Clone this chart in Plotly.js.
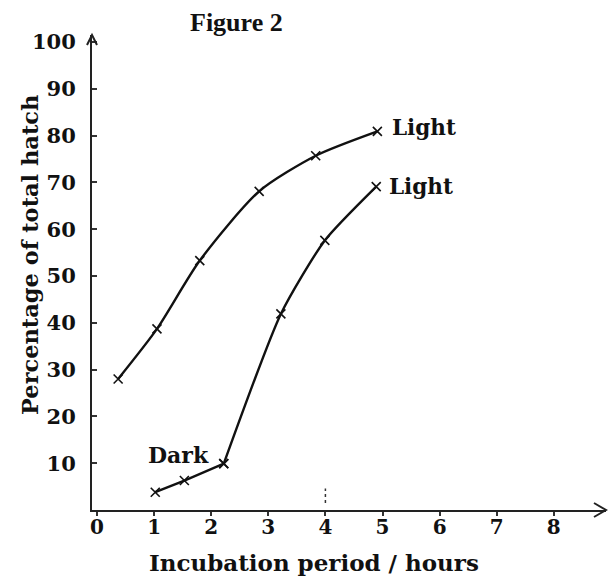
<!DOCTYPE html>
<html>
<head>
<meta charset="utf-8">
<script src="https://cdn.plot.ly/plotly-3.0.1.min.js"></script>
<style>html,body{margin:0;padding:0;background:#fff;}#chart{width:608px;height:576px;}</style>
</head>
<body>
<div id="chart"></div>
<script>
// Data
const lightUpperHours = [0.37, 1.05, 1.80, 2.84, 3.83, 4.91];
const lightUpperPct   = [28.0, 38.7, 53.3, 68.1, 75.7, 80.9];

const darkHours = [1.02, 1.53, 2.22];
const darkPct   = [3.8, 6.3, 9.9];

const lightLowerHours = [2.22, 3.22, 3.99, 4.89];
const lightLowerPct   = [9.9, 41.9, 57.6, 69.1];

const xTickVals = [0, 1, 2, 3, 4, 5, 6, 7, 8];
const yTickVals = [10, 20, 30, 40, 50, 60, 70, 80, 90, 100];

const ink = '#111';
const serifBold = 'DejaVu Serif';

const markerStyle = {symbol: 'x-thin', size: 9, line: {color: ink, width: 1.6}, color: ink};

const traces = [
  {x: lightUpperHours, y: lightUpperPct, mode: 'lines+markers', name: 'Light (upper)',
   line: {color: ink, width: 2.4, shape: 'spline', smoothing: 0.7}, marker: markerStyle},
  {x: darkHours, y: darkPct, mode: 'lines+markers', name: 'Dark',
   line: {color: ink, width: 2.4}, marker: markerStyle},
  {x: lightLowerHours, y: lightLowerPct, mode: 'lines+markers', name: 'Light (lower)',
   line: {color: ink, width: 2.4, shape: 'spline', smoothing: 0.6}, marker: markerStyle}
];

const pw = 514, ph = 475;
const layout = {
  width: 608, height: 576,
  margin: {l: 92, r: 2, t: 35, b: 66},
  paper_bgcolor: '#fff', plot_bgcolor: '#fff',
  showlegend: false,
  xaxis: {
    range: [-0.0876, 8.914], tickvals: xTickVals, ticktext: xTickVals.map(String),
    showgrid: false, zeroline: false, showline: true, linecolor: '#222', linewidth: 2,
    ticks: 'outside', ticklen: 4, tickwidth: 2, tickcolor: '#333',
    tickfont: {family: serifBold, size: 20, color: ink, weight: 'bold'},
    ticklabelstandoff: -6
  },
  yaxis: {
    range: [0, 101.5], tickvals: yTickVals, ticktext: yTickVals.map(String),
    showgrid: false, zeroline: false, showline: true, linecolor: '#222', linewidth: 2,
    ticks: 'inside', ticklen: 5, tickwidth: 2, tickcolor: '#333',
    tickfont: {family: serifBold, size: 21, color: ink, weight: 'bold'},
    ticklabelstandoff: 10
  },
  annotations: [
    {text: 'Figure 2', xref: 'paper', yref: 'paper', x: 0.282, y: 1.027, xanchor: 'center', yanchor: 'middle',
     showarrow: false, font: {family: 'Liberation Serif', size: 26, color: ink, weight: 'bold'}},
    {text: 'Percentage of total hatch', xref: 'paper', yref: 'paper', x: -62/pw, y: (510-255)/ph,
     xanchor: 'center', yanchor: 'middle', textangle: -90, showarrow: false,
     font: {family: serifBold, size: 22.5, color: ink, weight: 'bold'}},
    {text: 'Incubation period / hours', xref: 'paper', yref: 'paper', x: (314-92)/pw, y: -(562-510)/ph,
     xanchor: 'center', yanchor: 'middle', showarrow: false,
     font: {family: serifBold, size: 23, color: ink, weight: 'bold'}},
    {text: 'Light', x: 5.13, y: 81.8, xanchor: 'left', yanchor: 'middle', showarrow: false,
     font: {family: serifBold, size: 21.5, color: ink, weight: 'bold'}},
    {text: 'Light', x: 5.08, y: 69.2, xanchor: 'left', yanchor: 'middle', showarrow: false,
     font: {family: serifBold, size: 21.5, color: ink, weight: 'bold'}},
    {text: 'Dark', x: 0.86, y: 11.75, xanchor: 'left', yanchor: 'middle', showarrow: false,
     font: {family: serifBold, size: 22, color: ink, weight: 'bold'}}
  ],
  shapes: [
    // arrow tip on x axis
    {type: 'path', xref: 'paper', yref: 'paper',
     path: `M ${1-12/pw} ${7/ph} L 1 0 L ${1-12/pw} ${-7/ph}`, line: {color: '#222', width: 2}},
    // arrow tip on y axis
    {type: 'path', xref: 'paper', yref: 'paper',
     path: `M ${-5/pw} ${1-10/ph} L 0 1 L ${5/pw} ${1-10/ph}`, line: {color: '#222', width: 2}},
    // small pencil mark above x = 4
    {type: 'line', xref: 'x', yref: 'y', x0: 4, x1: 4, y0: 1.5, y1: 4.6,
     line: {color: '#333', width: 1.5, dash: 'dot'}}
  ]
};

Plotly.newPlot('chart', traces, layout, {staticPlot: true, displayModeBar: false});
</script>
</body>
</html>
